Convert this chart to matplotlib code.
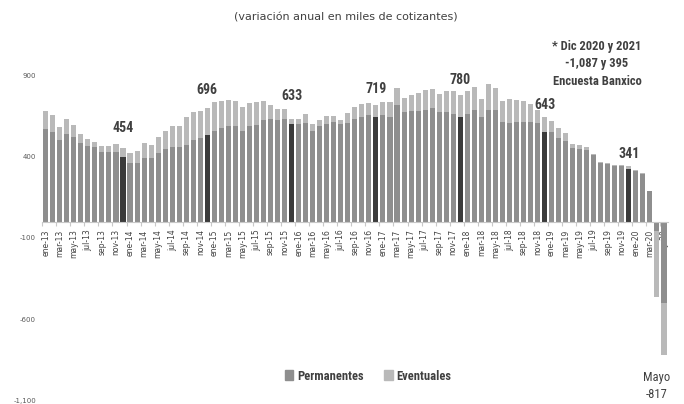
import matplotlib
matplotlib.use("Agg")
import matplotlib.pyplot as plt
from matplotlib.patches import Patch
from matplotlib.ticker import FixedLocator, FuncFormatter
from matplotlib import font_manager
import numpy as np

# ---------------- data ----------------
months = ["ene", "feb", "mar", "abr", "may", "jun", "jul", "ago", "sep", "oct", "nov", "dic"]
categories = [f"{m}-{y}" for y in range(13, 21) for m in months][:89]

permanentes = [567, 548, 501, 538, 522, 485, 464, 460, 429, 429, 429, 399,
               362, 362, 390, 391, 420, 444, 456, 456, 472, 501, 511, 530,
               558, 575, 585, 585, 557, 585, 596, 622, 630, 622, 630, 597,
               597, 607, 558, 587, 597, 613, 597, 607, 630, 640, 653, 644,
               653, 644, 718, 671, 677, 681, 685, 696, 671, 670, 659, 640,
               659, 685, 640, 685, 685, 613, 604, 613, 613, 613, 604, 550,
               550, 511, 495, 450, 444, 440, 412, 362, 352, 342, 342, 325,
               313, 293, 186, -60, -500]
totales = [681, 657, 583, 628, 595, 535, 509, 491, 464, 464, 475, 454,
           420, 435, 485, 472, 518, 558, 587, 589, 644, 673, 681, 696,
           733, 742, 748, 741, 701, 731, 732, 742, 714, 693, 691, 633,
           632, 659, 597, 622, 648, 647, 622, 669, 706, 724, 730, 719,
           736, 733, 820, 757, 775, 790, 806, 814, 782, 802, 802, 780,
           802, 824, 753, 843, 818, 742, 753, 745, 742, 722, 685, 643,
           620, 577, 546, 475, 470, 456, 417, 368, 362, 346, 346, 341,
           319, 297, 188, -460, -817]
eventuales = [t - p for t, p in zip(totales, permanentes)]

highlight_labels = {"dic-13": "454", "dic-14": "696", "dic-15": "633", "dic-16": "719",
                    "dic-17": "780", "dic-18": "643", "dic-19": "341"}
label_offsets_px = {"dic-13": 20, "dic-14": 18, "dic-15": 23, "dic-16": 16,
                    "dic-17": 15, "dic-18": 12, "dic-19": 12}

yticks = [900, 400, -100, -600, -1100]

# ---------------- fonts ----------------
fl = font_manager.fontManager.ttflist
names = {f.name for f in fl}
cond_font = {"family": "DejaVu Sans", "stretch": "normal"}
scale = 0.82
for cand in ["Liberation Sans Narrow", "Roboto Condensed", "Open Sans Condensed",
             "Noto Sans Condensed", "DejaVu Sans Condensed"]:
    if cand in names:
        cond_font = {"family": cand, "stretch": "normal"}
        scale = 1.0
        break
else:
    if any(f.name == "DejaVu Sans" and f.stretch == "condensed" for f in fl):
        cond_font = {"family": "DejaVu Sans", "stretch": "condensed"}
        scale = 0.95
    elif "Roboto" in names:
        cond_font = {"family": "Roboto", "stretch": "normal"}
        scale = 0.92

def fs(v):
    return v * scale

# ---------------- style ----------------
C_PERM = "#8e8e8e"
C_EVENT = "#b9b9b9"
C_HIGH = "#3b3b3b"
C_TEXT = "#404040"

W, H = 684, 404
fig = plt.figure(figsize=(W / 100, H / 100), dpi=100)
x0px, x1px = 41.5, 668.2
ytop, ybot = 75, 401
ax = fig.add_axes([x0px / W, 1 - ybot / H, (x1px - x0px) / W, (ybot - ytop) / H])

x = np.arange(len(categories))
perm_colors = [C_HIGH if c.startswith("dic") else C_PERM for c in categories]
ax.bar(x, permanentes, width=0.72, color=perm_colors, zorder=2)
ax.bar(x, eventuales, width=0.72, bottom=permanentes, color=C_EVENT, zorder=2)

ax.set_xlim(-0.6, len(categories) - 0.4)
ax.set_ylim(-1100, 900)

for s in ["top", "right", "left"]:
    ax.spines[s].set_visible(False)
ax.spines["bottom"].set_position(("data", 0))
ax.spines["bottom"].set_color("#c8c8c8")
ax.spines["bottom"].set_linewidth(0.8)
ax.spines["bottom"].set_zorder(3)

ax.set_yticks(yticks)
ax.yaxis.set_major_formatter(FuncFormatter(lambda v, p: f"{int(v):,}"))
ax.tick_params(axis="y", length=0, pad=4, labelsize=5, labelcolor="#595959")

lab_pos = x[::2]
ax.set_xticks(lab_pos)
ax.set_xticklabels([categories[i] for i in lab_pos], rotation=90, fontsize=5.5,
                   color=C_TEXT, va="top", ha="center")
ax.tick_params(axis="x", which="major", length=0, pad=5.5)
ax.xaxis.set_minor_locator(FixedLocator(np.arange(-0.5, len(categories), 2)))
ax.tick_params(axis="x", which="minor", length=3, color="#c8c8c8", width=0.8)

for i, c in enumerate(categories):
    if c in highlight_labels:
        ax.annotate(highlight_labels[c], (i, totales[i]),
                    xytext=(0, label_offsets_px[c] * 0.72), textcoords="offset points",
                    ha="center", va="center", fontsize=fs(10), color=C_TEXT,
                    fontweight="bold", **cond_font)

fig.text(346 / W, 1 - 17 / H, "(variación anual en miles de cotizantes)",
         ha="center", va="center", fontsize=8, color=C_TEXT)
fig.text(597 / W, 1 - 64 / H, "* Dic 2020 y 2021\n-1,087 y 395\nEncuesta Banxico",
         ha="center", va="center", fontsize=fs(9), color=C_TEXT,
         fontweight="bold", linespacing=1.45, **cond_font)
fig.text(657 / W, 1 - 386 / H, "Mayo\n-817", ha="center", va="center",
         fontsize=fs(9), color=C_TEXT, linespacing=1.45, **cond_font)

handles = [Patch(color=C_PERM, label="Permanentes"), Patch(color=C_EVENT, label="Eventuales")]
fig.legend(handles=handles, loc="center", bbox_to_anchor=(368 / W, 1 - 376 / H), ncol=2,
           frameon=False, handlelength=0.7, handleheight=0.9, handletextpad=0.3,
           columnspacing=1.6,
           prop=font_manager.FontProperties(family=cond_font["family"],
                                            stretch=cond_font["stretch"],
                                            weight="bold", size=fs(9)),
           labelcolor=C_TEXT)

fig.savefig("out.png", dpi=100)
